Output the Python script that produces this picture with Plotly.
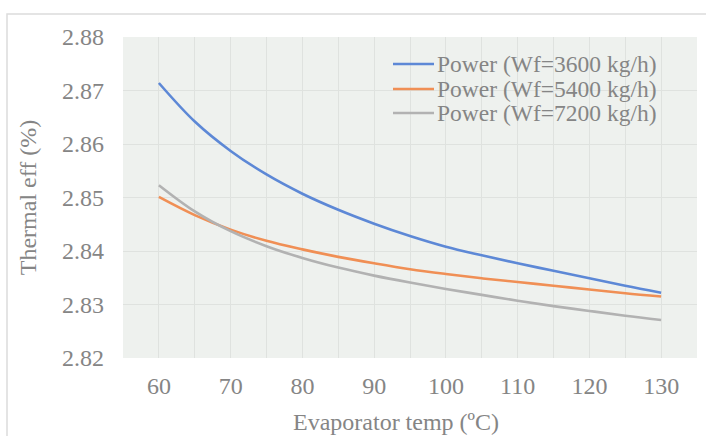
import plotly.graph_objects as go

temps = [60, 65, 70, 75, 80, 85, 90, 95, 100, 105, 110, 115, 120, 125, 130]
eff_3600 = [2.8714, 2.8642, 2.8587, 2.8543, 2.8507, 2.8477, 2.8451, 2.8428,
            2.8408, 2.8392, 2.8377, 2.8363, 2.8349, 2.8335, 2.8322]
eff_5400 = [2.8501, 2.8467, 2.8440, 2.8419, 2.8403, 2.8389, 2.8377, 2.8366,
            2.8357, 2.8349, 2.8342, 2.8335, 2.8328, 2.8321, 2.8315]
eff_7200 = [2.8523, 2.8474, 2.8437, 2.8409, 2.8387, 2.8369, 2.8354, 2.8341,
            2.8329, 2.8318, 2.8307, 2.8297, 2.8288, 2.8279, 2.8271]
series_names = ["Power (Wf=3600 kg/h)", "Power (Wf=5400 kg/h)", "Power (Wf=7200 kg/h)"]
series_colors = ["#5d88d6", "#f08f55", "#b2b2b2"]
x_title = "Evaporator temp (ºC)"
y_title = "Thermal eff (%)"

W, H = 706, 436
L, R, T, B = 123, 9, 37, 78
pw, ph = W - L - R, H - T - B

font_family = "Liberation Serif"
txt_col = "#858585"


def px_x(p):
    return (p - L) / pw


def px_y(p):
    return (H - B - p) / ph


fig = go.Figure()
for name, ys, col in zip(series_names, [eff_3600, eff_5400, eff_7200], series_colors):
    fig.add_trace(go.Scatter(x=temps, y=ys, mode="lines", name=name,
                             line=dict(color=col, width=2.6, shape="spline", smoothing=1.0)))

# chart-area border
fig.add_shape(type="rect", xref="paper", yref="paper",
              x0=px_x(7), x1=px_x(730), y0=px_y(460), y1=px_y(14),
              line=dict(color="#dcdcdc", width=1.5), fillcolor="rgba(0,0,0,0)", layer="below")

# legend (line samples + text to match the compact row spacing)
legend_rows_px = [64, 89, 113]
for name, col, ry in zip(series_names, series_colors, legend_rows_px):
    fig.add_shape(type="line", xref="paper", yref="paper",
                  x0=px_x(393), x1=px_x(434), y0=px_y(ry), y1=px_y(ry),
                  line=dict(color=col, width=2.6))
    fig.add_annotation(xref="paper", yref="paper", x=px_x(435), y=px_y(ry),
                       xanchor="left", yanchor="middle", text=name, showarrow=False,
                       font=dict(family=font_family, size=23.5, color=txt_col))

# x-axis title (centred on the chart area, as in the original)
fig.add_annotation(xref="paper", yref="paper", x=px_x(396), y=px_y(422),
                   xanchor="center", yanchor="middle", text=x_title, showarrow=False,
                   font=dict(family=font_family, size=24, color=txt_col))

fig.update_layout(
    width=W, height=H,
    margin=dict(l=L, r=R, t=T, b=B),
    paper_bgcolor="white",
    plot_bgcolor="#eef1ee",
    font=dict(family=font_family, size=24, color=txt_col),
    showlegend=False,
    xaxis=dict(range=[55, 135], tick0=60, dtick=10, showgrid=True,
               gridcolor="#dfe2df", gridwidth=1, zeroline=False,
               showline=False, ticks="", ticklabelstandoff=11,
               minor=dict(dtick=5, tick0=55, showgrid=True, gridcolor="#dfe2df", gridwidth=1),
               tickfont=dict(size=24, color=txt_col), automargin=False),
    yaxis=dict(range=[2.82, 2.88], dtick=0.01, tick0=2.82, tickformat=".2f",
               showgrid=True, gridcolor="#dfe2df", gridwidth=1, zeroline=False,
               showline=False, ticks="", ticklabelstandoff=18,
               title=dict(text=y_title, standoff=18,
                          font=dict(size=24, color=txt_col)),
               tickfont=dict(size=24, color=txt_col), automargin=False),
)

fig.write_html("out.html")
